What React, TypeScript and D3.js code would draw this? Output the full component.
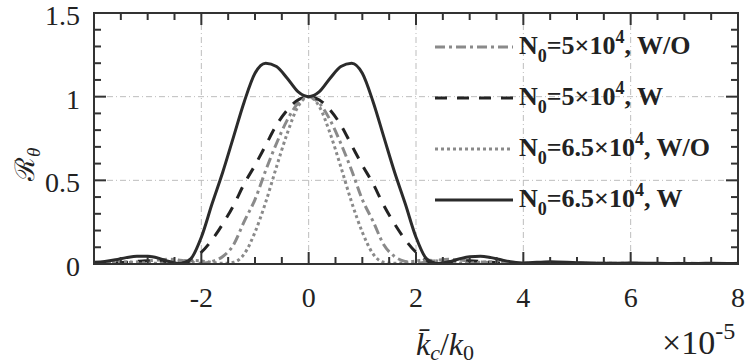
import { useEffect, useRef } from 'react'
import * as d3 from 'd3'

// x in units of 1e-5 (k_c / k_0)
const xs = [-4, -3.8, -3.6, -3.4, -3.2, -3, -2.8, -2.6, -2.4, -2.2, -2, -1.8, -1.6, -1.4, -1.2, -1, -0.8, -0.6, -0.4, -0.2,
  0, 0.2, 0.4, 0.6, 0.8, 1, 1.2, 1.4, 1.6, 1.8, 2, 2.2, 2.4, 2.6, 2.8, 3, 3.2, 3.4, 3.6, 3.8, 4,
  4.5, 5, 5.5, 6, 6.5, 7, 7.5, 8]

const n5wo = [0.004, 0.005, 0.006, 0.008, 0.012, 0.018, 0.024, 0.028, 0.022, 0.012, 0.004, 0.015, 0.045, 0.115, 0.255, 0.385, 0.56, 0.72, 0.86, 0.96,
  1, 0.96, 0.86, 0.72, 0.56, 0.385, 0.255, 0.115, 0.045, 0.015, 0.004, 0.012, 0.022, 0.028, 0.024, 0.018, 0.012, 0.008, 0.006, 0.005, 0.004,
  0.004, 0.005, 0.004, 0.004, 0.003, 0.004, 0.003, 0.004]

const n5w = [0.003, 0.004, 0.006, 0.01, 0.016, 0.02, 0.02, 0.012, 0.004, 0.02, 0.07, 0.145, 0.24, 0.35, 0.48, 0.59, 0.71, 0.83, 0.92, 0.98,
  1, 0.98, 0.92, 0.83, 0.71, 0.59, 0.48, 0.35, 0.24, 0.145, 0.07, 0.02, 0.004, 0.012, 0.02, 0.02, 0.016, 0.01, 0.006, 0.004, 0.003,
  0.005, 0.004, 0.003, 0.003, 0.003, 0.003, 0.003, 0.003]

const n65wo = [0.004, 0.006, 0.01, 0.012, 0.01, 0.006, 0.004, 0.01, 0.018, 0.022, 0.018, 0.01, 0.004, 0.01, 0.06, 0.19, 0.37, 0.58, 0.78, 0.94,
  1, 0.94, 0.78, 0.58, 0.37, 0.19, 0.06, 0.01, 0.004, 0.01, 0.018, 0.022, 0.018, 0.01, 0.004, 0.006, 0.01, 0.012, 0.01, 0.006, 0.004,
  0.004, 0.003, 0.004, 0.003, 0.003, 0.003, 0.003, 0.003]

const n65w = [0.01, 0.015, 0.025, 0.038, 0.047, 0.046, 0.035, 0.015, 0.003, 0.03, 0.16, 0.36, 0.55, 0.76, 0.97, 1.14, 1.2, 1.18, 1.11, 1.03,
  1, 1.03, 1.11, 1.18, 1.2, 1.14, 0.97, 0.76, 0.55, 0.36, 0.16, 0.03, 0.003, 0.012, 0.03, 0.044, 0.047, 0.038, 0.024, 0.012, 0.006,
  0.014, 0.008, 0.004, 0.006, 0.004, 0.003, 0.004, 0.003]

const series = [
  { label: ['5', 'W/O'], values: n5wo, color: '#8a8a8a', dash: '10,4,3,4' },
  { label: ['5', 'W'], values: n5w, color: '#232323', dash: '12,10' },
  { label: ['6.5', 'W/O'], values: n65wo, color: '#8a8a8a', dash: '3,3' },
  { label: ['6.5', 'W'], values: n65w, color: '#2b2b2b', dash: null },
]

const xTicks = [-2, 0, 2, 4, 6, 8]
const yTicks = [0, 0.5, 1, 1.5]
const xGrid = [-2, 0, 2, 4, 6]
const yGrid = [0.5, 1]

export default function App() {
  const ref = useRef<SVGSVGElement>(null)

  useEffect(() => {
    const width = 747
    const height = 364
    const m = { left: 94, right: 9, top: 13, bottom: 100 }
    const svg = d3.select(ref.current)
    svg.selectAll('*').remove()

    const x = d3.scaleLinear().domain([-4, 8]).range([m.left, width - m.right])
    const y = d3.scaleLinear().domain([0, 1.5]).range([height - m.bottom, m.top])
    const font = '"Liberation Serif", "Times New Roman", serif'

    svg.append('defs').append('clipPath').attr('id', 'plot')
      .append('rect').attr('x', x(-4)).attr('y', y(1.5)).attr('width', x(8) - x(-4)).attr('height', y(0) - y(1.5))

    // grid
    const grid = svg.append('g').attr('stroke', '#bdbdbd').attr('stroke-width', 1).attr('stroke-dasharray', '6,3,1,3')
    xGrid.forEach(v => grid.append('line').attr('x1', x(v)).attr('x2', x(v)).attr('y1', y(0)).attr('y2', y(1.5)))
    yGrid.forEach(v => grid.append('line').attr('x1', x(-4)).attr('x2', x(8)).attr('y1', y(v)).attr('y2', y(v)))

    // curves
    const line = d3.line<number>().x((_, i) => x(xs[i])).y(d => y(d)).curve(d3.curveMonotoneX)
    const plot = svg.append('g').attr('clip-path', 'url(#plot)')
    series.forEach(s => {
      plot.append('path').attr('d', line(s.values))
        .attr('fill', 'none').attr('stroke', s.color).attr('stroke-width', 3)
        .attr('stroke-dasharray', s.dash).attr('stroke-linejoin', 'round')
    })

    // frame and ticks
    const axes = svg.append('g').attr('stroke', '#333').attr('stroke-width', 2)
    axes.append('rect').attr('x', x(-4)).attr('y', y(1.5)).attr('width', x(8) - x(-4)).attr('height', y(0) - y(1.5)).attr('fill', 'none')
    d3.range(-4, 8.001, 0.5).forEach(v => {
      const len = Math.abs(v % 2) < 1e-6 ? 12 : 7
      axes.append('line').attr('x1', x(v)).attr('x2', x(v)).attr('y1', y(0)).attr('y2', y(0) - len)
      axes.append('line').attr('x1', x(v)).attr('x2', x(v)).attr('y1', y(1.5)).attr('y2', y(1.5) + len)
    })
    d3.range(0, 16).forEach(k => {
      const v = k / 10
      const len = k % 5 === 0 ? 12 : 7
      axes.append('line').attr('x1', x(-4)).attr('x2', x(-4) + len).attr('y1', y(v)).attr('y2', y(v))
      axes.append('line').attr('x1', x(8)).attr('x2', x(8) - len).attr('y1', y(v)).attr('y2', y(v))
    })

    // tick labels
    const lab = svg.append('g').style('font-family', font).style('font-size', '28px').attr('fill', '#222')
    xTicks.forEach(v => lab.append('text').attr('x', x(v)).attr('y', y(0) + 43).attr('text-anchor', 'middle').text(String(v)))
    yTicks.forEach(v => lab.append('text').attr('x', x(-4) - 14).attr('y', y(v) + 12).attr('text-anchor', 'end').text(String(v)))

    // axis labels
    const xl = lab.append('text').attr('x', 416).attr('y', 355).style('font-size', '32px').style('font-style', 'italic')
    xl.append('tspan').text('k\u0304')
    xl.append('tspan').attr('dy', 5).style('font-size', '22px').text('c')
    xl.append('tspan').attr('dy', -5).style('font-style', 'normal').text('/')
    xl.append('tspan').text('k')
    xl.append('tspan').attr('dy', 5).style('font-size', '22px').style('font-style', 'normal').text('0')

    const xm = lab.append('text').attr('x', 662).attr('y', 354).style('font-size', '34px')
    xm.append('tspan').text('\u00d710')
    xm.append('tspan').attr('dy', -15).style('font-size', '24px').text('-5')

    const yl = lab.append('text').attr('transform', 'translate(34,181) rotate(-90)').style('font-size', '27px')
    yl.append('tspan').text('\u211B')
    yl.append('tspan').attr('dy', 6).style('font-size', '19px').style('font-style', 'italic').text('\u03b8')

    // legend
    const leg = svg.append('g').style('font-family', font).style('font-size', '26px').style('font-weight', 'bold').attr('fill', '#222')
    series.forEach((s, i) => {
      const ly = 47 + i * 51
      leg.append('line').attr('x1', 435).attr('x2', 513).attr('y1', ly).attr('y2', ly)
        .attr('stroke', s.color).attr('stroke-width', 3).attr('stroke-dasharray', s.dash)
      const t = leg.append('text').attr('x', 519).attr('y', ly + 7)
      t.append('tspan').text('N')
      t.append('tspan').attr('dy', 8).style('font-size', '18px').text('0')
      t.append('tspan').attr('dy', -8).text(`=${s.label[0]}\u00d710`)
      t.append('tspan').attr('dy', -11).style('font-size', '18px').text('4')
      t.append('tspan').attr('dy', 11).text(`, ${s.label[1]}`)
    })
  }, [])

  return <svg ref={ref} width={747} height={364} style={{ position: 'absolute', left: 0, top: 0, background: '#fff' }} />
}
